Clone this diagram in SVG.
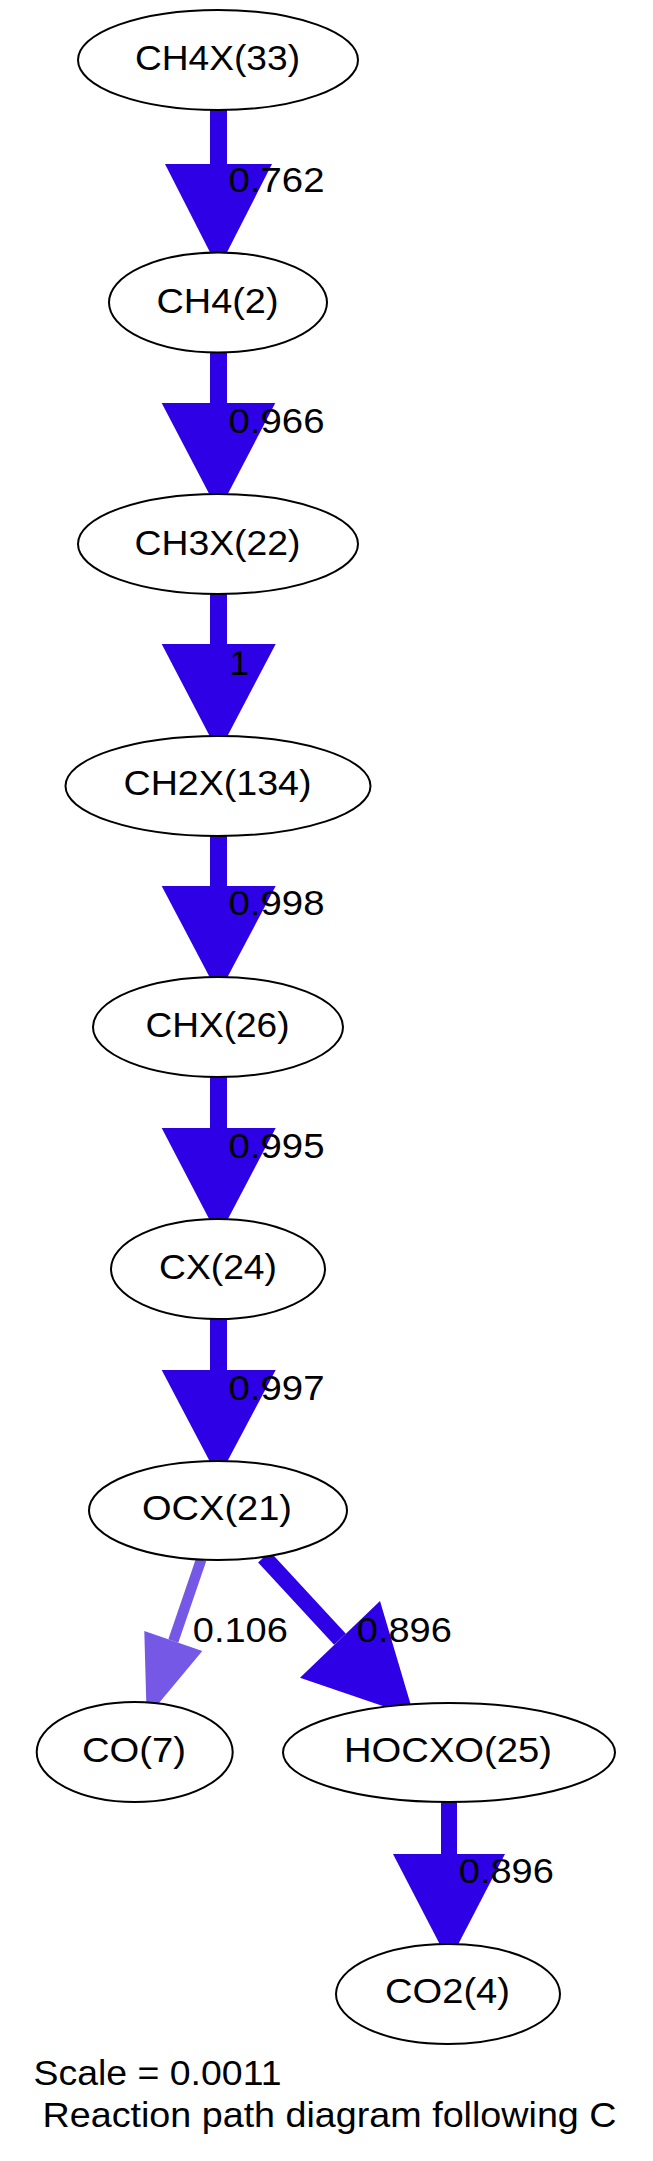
<svg xmlns="http://www.w3.org/2000/svg" width="653" height="2161" viewBox="0 0 653 2161">
<style>
  .node ellipse { fill: #ffffff; stroke: #000000; stroke-width: 2; }
  .node text { font-family: "Liberation Sans", Arial, Helvetica, sans-serif; font-size: 35px; fill: #000000; text-anchor: middle; }
  .lbl { font-family: "Liberation Sans", Arial, Helvetica, sans-serif; font-size: 35px; fill: #000000; }
  .e { stroke: #2E00E6; fill: none; stroke-linecap: butt; }
  .h { fill: #2E00E6; stroke: none; }
  .e2 { stroke: #7558E6; fill: none; stroke-linecap: butt; }
  .h2 { fill: #7558E6; stroke: none; }
</style>
<rect x="0" y="0" width="653" height="2161" fill="#ffffff"/>

<g id="connectors">
  <g id="e_CH4X_CH4">
    <line class="e" x1="218.5" y1="110" x2="218.5" y2="164" stroke-width="17"/>
    <polygon class="h" points="165,164 272,164 218.5,269"/>
  </g>
  <g id="e_CH4_CH3X">
    <line class="e" x1="218.5" y1="352.5" x2="218.5" y2="403" stroke-width="17"/>
    <polygon class="h" points="161.7,403 275.3,403 218.5,511.7"/>
  </g>
  <g id="e_CH3X_CH2X">
    <line class="e" x1="218.5" y1="594" x2="218.5" y2="644" stroke-width="17"/>
    <polygon class="h" points="161.7,644 275.7,644 218.5,753"/>
  </g>
  <g id="e_CH2X_CHX">
    <line class="e" x1="218.5" y1="836" x2="218.5" y2="886" stroke-width="17"/>
    <polygon class="h" points="161.7,886 275.7,886 218.5,994"/>
  </g>
  <g id="e_CHX_CX">
    <line class="e" x1="218.5" y1="1077" x2="218.5" y2="1128" stroke-width="17"/>
    <polygon class="h" points="161.7,1128 275.7,1128 218.5,1237"/>
  </g>
  <g id="e_CX_OCX">
    <line class="e" x1="218.5" y1="1319" x2="218.5" y2="1370" stroke-width="17"/>
    <polygon class="h" points="161.7,1370 275.7,1370 218.5,1478"/>
  </g>
  <g id="e_OCX_CO">
    <line class="e2" x1="201.2" y1="1559.5" x2="173.3" y2="1641" stroke-width="10.5"/>
    <polygon class="h2" points="144.3,1631 202.3,1651 146.7,1717.7"/>
  </g>
  <g id="e_OCX_HOCXO">
    <line class="e" x1="264" y1="1557" x2="340" y2="1639.3" stroke-width="16"/>
    <polygon class="h" points="380,1601 300,1677.7 414.3,1716.7"/>
  </g>
  <g id="e_HOCXO_CO2">
    <line class="e" x1="449" y1="1802" x2="449" y2="1854" stroke-width="16"/>
    <polygon class="h" points="393,1854 505,1854 449,1962"/>
  </g>

  <text class="lbl" x="228.5" y="192" textLength="96" lengthAdjust="spacingAndGlyphs">0.762</text>
  <text class="lbl" x="228.5" y="433" textLength="96" lengthAdjust="spacingAndGlyphs">0.966</text>
  <text class="lbl" x="229.5" y="675">1</text>
  <text class="lbl" x="228.5" y="915" textLength="96" lengthAdjust="spacingAndGlyphs">0.998</text>
  <text class="lbl" x="228.5" y="1158" textLength="96" lengthAdjust="spacingAndGlyphs">0.995</text>
  <text class="lbl" x="228.5" y="1400" textLength="96" lengthAdjust="spacingAndGlyphs">0.997</text>
  <text class="lbl" x="192.8" y="1642" textLength="95" lengthAdjust="spacingAndGlyphs">0.106</text>
  <text class="lbl" x="356.8" y="1642" textLength="95" lengthAdjust="spacingAndGlyphs">0.896</text>
  <text class="lbl" x="458.8" y="1883" textLength="95" lengthAdjust="spacingAndGlyphs">0.896</text>
</g>

<g id="CH4X_33" class="node">
  <ellipse cx="218" cy="60" rx="140" ry="50"/>
  <text x="217.5" y="70" textLength="165" lengthAdjust="spacingAndGlyphs">CH4X(33)</text>
</g>
<g id="CH4_2" class="node">
  <ellipse cx="218" cy="302.5" rx="109" ry="50"/>
  <text x="217.5" y="312.5" textLength="122" lengthAdjust="spacingAndGlyphs">CH4(2)</text>
</g>
<g id="CH3X_22" class="node">
  <ellipse cx="218" cy="544" rx="140" ry="50"/>
  <text x="217.5" y="555" textLength="166" lengthAdjust="spacingAndGlyphs">CH3X(22)</text>
</g>
<g id="CH2X_134" class="node">
  <ellipse cx="218" cy="786" rx="152.5" ry="50"/>
  <text x="217.5" y="795" textLength="188" lengthAdjust="spacingAndGlyphs">CH2X(134)</text>
</g>
<g id="CHX_26" class="node">
  <ellipse cx="218" cy="1027" rx="125" ry="50"/>
  <text x="217.5" y="1037" textLength="144" lengthAdjust="spacingAndGlyphs">CHX(26)</text>
</g>
<g id="CX_24" class="node">
  <ellipse cx="218" cy="1269" rx="107" ry="50"/>
  <text x="218" y="1279" textLength="118" lengthAdjust="spacingAndGlyphs">CX(24)</text>
</g>
<g id="OCX_21" class="node">
  <ellipse cx="218" cy="1510.5" rx="129" ry="49.5"/>
  <text x="217" y="1520" textLength="150" lengthAdjust="spacingAndGlyphs">OCX(21)</text>
</g>
<g id="CO_7" class="node">
  <ellipse cx="134.7" cy="1752" rx="98" ry="50"/>
  <text x="134" y="1762" textLength="104" lengthAdjust="spacingAndGlyphs">CO(7)</text>
</g>
<g id="HOCXO_25" class="node">
  <ellipse cx="449" cy="1752.5" rx="166" ry="49.5"/>
  <text x="448" y="1762" textLength="208" lengthAdjust="spacingAndGlyphs">HOCXO(25)</text>
</g>
<g id="CO2_4" class="node">
  <ellipse cx="448" cy="1994" rx="112" ry="50"/>
  <text x="447.5" y="2003" textLength="125" lengthAdjust="spacingAndGlyphs">CO2(4)</text>
</g>

<g id="caption">
  <text class="lbl" x="33.5" y="2085" textLength="248" lengthAdjust="spacingAndGlyphs">Scale = 0.0011</text>
  <text class="lbl" x="42.5" y="2127" textLength="574" lengthAdjust="spacingAndGlyphs">Reaction path diagram following C</text>
</g>
</svg>
